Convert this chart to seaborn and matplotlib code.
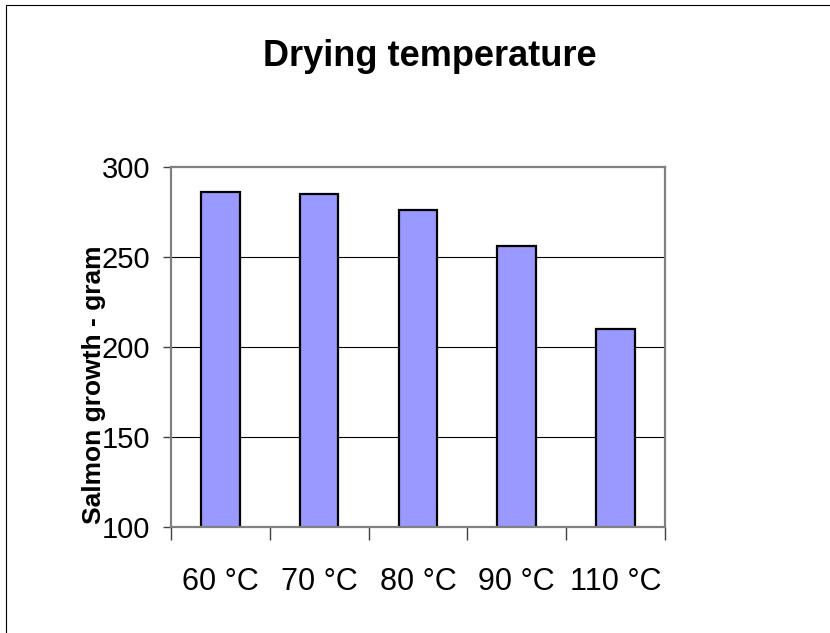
import matplotlib
matplotlib.use("Agg")
import matplotlib.pyplot as plt
from matplotlib.patches import Rectangle
import seaborn as sns
import pandas as pd

# values
temperatures = ["60 °C", "70 °C", "80 °C", "90 °C", "110 °C"]
growth = [286, 285, 276, 256, 210]

title = "Drying temperature"
y_label = "Salmon growth - gram"
y_ticks = [100, 150, 200, 250, 300]

sns.set_style("white")
plt.rcParams['font.family'] = ['Liberation Sans', 'DejaVu Sans']
plt.rcParams['text.color'] = 'black'
plt.rcParams['axes.labelcolor'] = 'black'
plt.rcParams['xtick.color'] = 'black'
plt.rcParams['ytick.color'] = 'black'

df = pd.DataFrame({"Temperature": temperatures, "Growth": growth})

fig = plt.figure(figsize=(8.3, 6.33), dpi=100)
ax = fig.add_axes([0.206, 0.1675, 0.595, 0.5685])

# black horizontal grid lines behind the bars
for v in y_ticks[1:-1]:
    ax.axhline(v, color="black", linewidth=0.8, zorder=0)

sns.barplot(data=df, x="Temperature", y="Growth", color="#9999FF",
            edgecolor="black", linewidth=1.6, width=0.39, saturation=1,
            ax=ax, zorder=2)

ax.set_ylim(100, 300)
ax.set_xlim(-0.5, len(temperatures) - 0.5)
ax.set_yticks(y_ticks)
ax.set_yticklabels([str(v) for v in y_ticks], fontsize=21)

# tick marks between categories, labels centered under bars
ax.set_xticks([i - 0.5 for i in range(len(temperatures) + 1)])
ax.set_xticklabels([])
ax.set_xticks(range(len(temperatures)), minor=True)
ax.set_xticklabels(temperatures, minor=True, fontsize=22)
ax.tick_params(axis="x", which="major", length=9, width=1, color="#404040",
               direction="out", bottom=True)
ax.tick_params(axis="x", which="minor", length=0, pad=29)
ax.tick_params(axis="y", length=6, width=1, color="#404040", direction="out",
               left=True, pad=9)

ax.set_xlabel("")
ax.set_ylabel(y_label, fontsize=19, fontweight="bold")
ax.yaxis.set_label_coords(-0.132, 0.394)

for s in ax.spines.values():
    s.set_visible(True)
    s.set_color("#808080")
    s.set_linewidth(1.6)

fig.text(0.518, 0.91, title, ha="center", va="center", fontsize=26,
         fontweight="bold")

# chart area border (left and top edges visible)
fig.patches.append(Rectangle((0.0072, -0.05), 1.1, 1.05 - 0.0079,
                             transform=fig.transFigure, fill=False,
                             edgecolor="black", linewidth=0.8))

fig.savefig("out.png", dpi=100)
